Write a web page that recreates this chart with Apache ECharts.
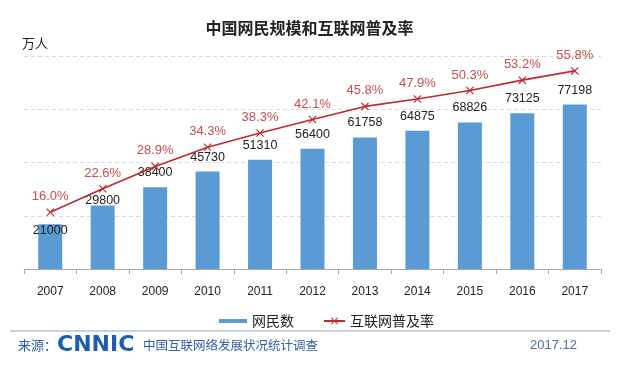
<!DOCTYPE html>
<html>
<head>
<meta charset="utf-8">
<script src="https://cdn.jsdelivr.net/npm/echarts@6/dist/echarts.min.js"></script>
<style>
html,body{margin:0;padding:0;background:#fff;}
#chart{width:619px;height:373px;}
</style>
</head>
<body>
<div id="chart"></div>
<script>
const years = ['2007','2008','2009','2010','2011','2012','2013','2014','2015','2016','2017'];
const netizens = [21000, 29800, 38400, 45730, 51310, 56400, 61758, 64875, 68826, 73125, 77198];
const penetration = [16.0, 22.6, 28.9, 34.3, 38.3, 42.1, 45.8, 47.9, 50.3, 53.2, 55.8];
const titleText = '中国网民规模和互联网普及率';
const unitText = '万人';
const barName = '网民数';
const lineName = '互联网普及率';
const sourceLabel = '来源：';
const logoText = 'CNNIC';
const surveyText = '中国互联网络发展状况统计调查';
const dateText = '2017.12';

const CJK = '"Noto Sans CJK SC", sans-serif';
const LAT = '"Liberation Sans", Arial, sans-serif';
const crossPath = 'path://M0,1 L1,0 L5,4 L9,0 L10,1 L6,5 L10,9 L9,10 L5,6 L1,10 L0,9 L4,5 Z';

const labelOffsets = {0: [0, 21], 1: [0, 10]};
const barData = netizens.map((v, i) => labelOffsets[i] ? {value: v, label: {offset: labelOffsets[i]}} : v);

const chart = echarts.init(document.getElementById('chart'));
chart.setOption({
  backgroundColor: '#ffffff',
  animation: false,
  title: {
    text: titleText, left: 'center', top: 20, padding: 0,
    textStyle: {fontFamily: CJK, fontSize: 16, fontWeight: 'bold', color: '#222'}
  },
  grid: {left: 24, right: 18, top: 56, bottom: 104},
  legend: [
    {
      data: [barName], left: 214, top: 309, itemWidth: 28, itemHeight: 4, itemGap: 0,
      icon: 'rect',
      textStyle: {fontFamily: CJK, fontSize: 14, color: '#222', padding: [0, 0, 0, 0]}
    },
    {
      data: [lineName], left: 318, top: 309, itemWidth: 21, itemHeight: 9, itemGap: 0,
      textStyle: {fontFamily: CJK, fontSize: 14, color: '#222'}
    }
  ],
  xAxis: {
    type: 'category', data: years, boundaryGap: true,
    axisLine: {lineStyle: {color: '#a6a6a6', width: 1}},
    axisTick: {show: true, length: 5, lineStyle: {color: '#a6a6a6'}},
    axisLabel: {fontFamily: LAT, fontSize: 12, color: '#222', margin: 17}
  },
  yAxis: [
    {
      type: 'value', min: 0, max: 100000, interval: 25000,
      axisLine: {show: false}, axisTick: {show: false}, axisLabel: {show: false},
      splitLine: {show: true, lineStyle: {color: '#d9d9d9', type: [4, 3]}}
    },
    {
      type: 'value', min: 0, max: 60, show: false, splitLine: {show: false}
    }
  ],
  series: [
    {
      name: barName, type: 'bar', data: barData, barWidth: 24,
      itemStyle: {color: '#5b9bd5'},
      label: {show: true, position: 'top', distance: 8, fontFamily: LAT, fontSize: 12.5, color: '#222'},
      z: 2
    },
    {
      name: lineName, type: 'line', yAxisIndex: 1, data: penetration,
      symbol: crossPath, symbolSize: 8,
      lineStyle: {color: '#c0282d', width: 1.6},
      itemStyle: {color: '#c0282d'},
      label: {
        show: true, position: 'top', distance: 5, fontFamily: LAT, fontSize: 13, color: '#c0504d',
        formatter: p => p.value.toFixed(1) + '%'
      },
      z: 3
    }
  ],
  graphic: [
    {type: 'text', x: 22, y: 43, style: {text: unitText, font: '13px ' + CJK, fill: '#222', verticalAlign: 'middle'}},
    {type: 'line', shape: {x1: 10, y1: 331, x2: 610, y2: 331}, style: {stroke: '#8fa3bf', lineWidth: 1}},
    {type: 'text', x: 18, y: 345, style: {text: sourceLabel, font: '13px ' + CJK, fill: '#2f62a8', verticalAlign: 'middle'}},
    {type: 'text', x: 57, y: 345, style: {text: logoText, font: 'bold 22px "DejaVu Sans", sans-serif', fill: '#1c5db4', verticalAlign: 'middle'}},
    {type: 'text', x: 143, y: 345, style: {text: surveyText, font: '12.5px ' + CJK, fill: '#2f62a8', verticalAlign: 'middle'}},
    {type: 'text', x: 530, y: 345, style: {text: dateText, font: '13px ' + LAT, fill: '#4a6fa5', verticalAlign: 'middle'}}
  ]
});
</script>
</body>
</html>
